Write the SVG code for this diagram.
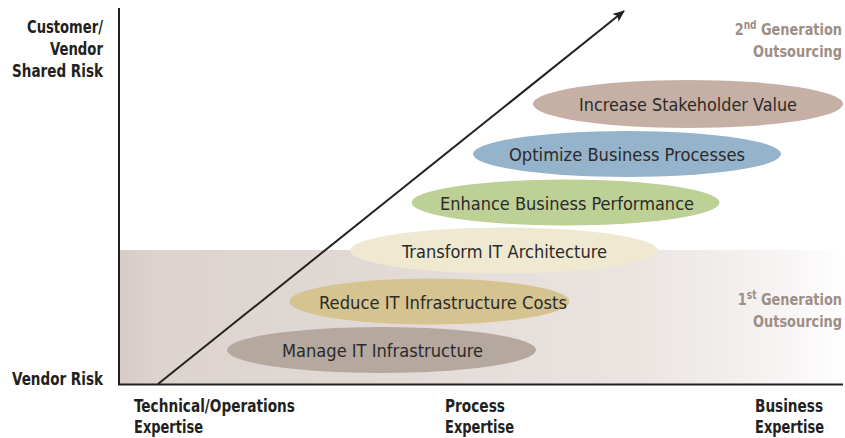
<svg xmlns="http://www.w3.org/2000/svg" width="845" height="438" viewBox="0 0 845 438">
  <defs>
    <linearGradient id="band" x1="0" y1="0" x2="1" y2="0">
      <stop offset="0" stop-color="#d6cbc6"/>
      <stop offset="0.04" stop-color="#dcd3ce"/>
      <stop offset="0.35" stop-color="#e1d9d5"/>
      <stop offset="0.72" stop-color="#ebe5e2"/>
      <stop offset="0.9" stop-color="#f6f3f2"/>
      <stop offset="1" stop-color="#ffffff"/>
    </linearGradient>
    <marker id="head" viewBox="0 0 12 10" refX="11" refY="5" markerWidth="12" markerHeight="10" markerUnits="userSpaceOnUse" orient="auto">
      <path d="M0,0 L12,5 L0,10 L3,5 Z" fill="#231f20"/>
    </marker>
  </defs>
  <style>
    .axis { stroke: #231f20; stroke-width: 2; fill: none; }
    .lbl { font-family: "Liberation Sans Narrow", "DejaVu Sans Condensed", "DejaVu Sans", sans-serif; font-weight: bold; font-size: 17.5px; fill: #231f20; }
    .gen { font-family: "Liberation Sans Narrow", "DejaVu Sans Condensed", "DejaVu Sans", sans-serif; font-weight: bold; font-size: 16.5px; fill: #9d8e86; text-anchor: end; }
    .sup { font-size: 11.5px; }
    .stage text { font-family: "Liberation Sans Narrow", "DejaVu Sans Condensed", "DejaVu Sans", sans-serif; font-size: 18px; fill: #2b2a29; text-anchor: middle; }
  </style>

  <rect width="845" height="438" fill="#ffffff"/>

  <!-- first-generation band -->
  <rect x="120" y="250" width="725" height="134" fill="url(#band)"/>

  <!-- stages -->
  <g id="manage" class="stage">
    <ellipse cx="381.5" cy="350" rx="154.5" ry="23" fill="#b5a89f"/>
    <text x="382.5" y="357" textLength="201" lengthAdjust="spacingAndGlyphs">Manage IT Infrastructure</text>
  </g>
  <g id="reduce" class="stage">
    <ellipse cx="429.5" cy="301.5" rx="140" ry="23" fill="#d5c48f"/>
    <text x="443" y="308.5" textLength="248" lengthAdjust="spacingAndGlyphs">Reduce IT Infrastructure Costs</text>
  </g>
  <g id="transform" class="stage">
    <ellipse cx="504" cy="250.5" rx="154" ry="23" fill="#efe9d1"/>
    <text x="504.5" y="257.5" textLength="205" lengthAdjust="spacingAndGlyphs">Transform IT Architecture</text>
  </g>
  <g id="enhance" class="stage">
    <ellipse cx="565.5" cy="202.5" rx="154" ry="23" fill="#bdd096"/>
    <text x="567" y="209.5" textLength="254" lengthAdjust="spacingAndGlyphs">Enhance Business Performance</text>
  </g>
  <g id="optimize" class="stage">
    <ellipse cx="627" cy="154" rx="154" ry="23" fill="#95b3cb"/>
    <text x="627" y="161" textLength="236" lengthAdjust="spacingAndGlyphs">Optimize Business Processes</text>
  </g>
  <g id="increase" class="stage">
    <ellipse cx="688" cy="104" rx="155" ry="24" fill="#c6b0a6"/>
    <text x="688" y="111" textLength="218" lengthAdjust="spacingAndGlyphs">Increase Stakeholder Value</text>
  </g>

  <!-- axes and growth arrow -->
  <g id="connectors">
    <path class="axis" d="M119,8 V384.5 H843"/>
    <path class="axis" d="M158,384 L624,11" marker-end="url(#head)"/>
  </g>

  <!-- risk axis labels -->
  <g id="risk-high">
    <text class="lbl" x="103" y="33" text-anchor="end" textLength="76" lengthAdjust="spacingAndGlyphs">Customer/</text>
    <text class="lbl" x="103" y="55" text-anchor="end" textLength="53" lengthAdjust="spacingAndGlyphs">Vendor</text>
    <text class="lbl" x="103" y="77" text-anchor="end" textLength="91" lengthAdjust="spacingAndGlyphs">Shared Risk</text>
  </g>
  <g id="risk-low">
    <text class="lbl" x="103" y="385" text-anchor="end" textLength="91" lengthAdjust="spacingAndGlyphs">Vendor Risk</text>
  </g>

  <!-- expertise axis labels -->
  <g id="exp-tech">
    <text class="lbl" x="134" y="412" textLength="161" lengthAdjust="spacingAndGlyphs">Technical/Operations</text>
    <text class="lbl" x="134" y="433" textLength="69" lengthAdjust="spacingAndGlyphs">Expertise</text>
  </g>
  <g id="exp-process">
    <text class="lbl" x="445" y="412" textLength="60" lengthAdjust="spacingAndGlyphs">Process</text>
    <text class="lbl" x="445" y="433" textLength="69" lengthAdjust="spacingAndGlyphs">Expertise</text>
  </g>
  <g id="exp-business">
    <text class="lbl" x="755" y="412" textLength="68" lengthAdjust="spacingAndGlyphs">Business</text>
    <text class="lbl" x="755" y="433" textLength="69" lengthAdjust="spacingAndGlyphs">Expertise</text>
  </g>

  <!-- generation labels (set in a horizontally condensed frame, right-aligned at x=842) -->
  <g id="gen-2">
    <g transform="translate(842,0) scale(0.87,1)">
      <text class="gen" x="0" y="35">2<tspan class="sup" dy="-6">nd</tspan><tspan dy="6"> Generation</tspan></text>
      <text class="gen" x="0" y="57">Outsourcing</text>
    </g>
  </g>
  <g id="gen-1">
    <g transform="translate(842,0) scale(0.87,1)">
      <text class="gen" x="0" y="305">1<tspan class="sup" dy="-6">st</tspan><tspan dy="6"> Generation</tspan></text>
      <text class="gen" x="0" y="327">Outsourcing</text>
    </g>
  </g>
</svg>
